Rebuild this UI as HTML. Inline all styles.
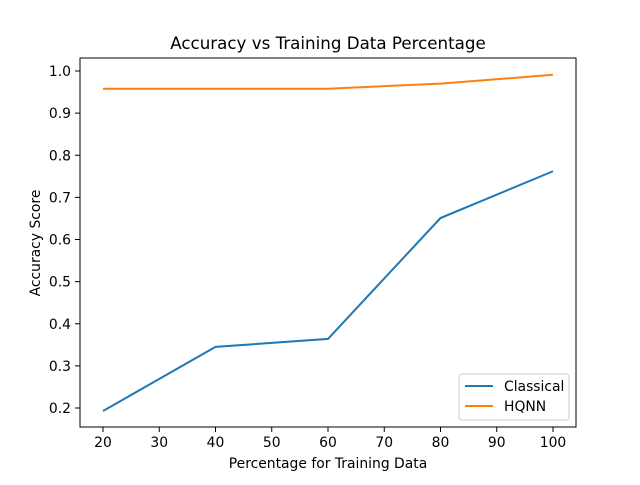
<!DOCTYPE html>
<html><head><meta charset="utf-8"><style>
body{margin:0;background:#fff;}
text{font-family:"DejaVu Sans","Liberation Sans",sans-serif;fill:#000;}
</style></head><body>
<svg id="chart" width="640" height="480">
<rect x="0" y="0" width="640" height="480" fill="#fff"/>
<text x="328" y="49" font-size="16.7" text-anchor="middle">Accuracy vs Training Data Percentage</text>
<g id="xticks"></g><g id="yticks"></g><g id="lines"></g>
<rect x="80" y="58" width="496" height="369" fill="none" stroke="#000" stroke-width="1"/>
<text x="328" y="468" font-size="13.9" text-anchor="middle">Percentage for Training Data</text>
<text transform="translate(40,243) rotate(-90)" font-size="13.9" text-anchor="middle">Accuracy Score</text>
<g>
<rect x="459" y="374" width="110" height="46" rx="3" fill="#fff" stroke="#ccc"/>
<line x1="465" y1="386" x2="493" y2="386" stroke="#1f77b4" stroke-width="2"/>
<text x="504" y="391" font-size="13.9">Classical</text>
<line x1="465" y1="406" x2="493" y2="406" stroke="#ff7f0e" stroke-width="2"/>
<text x="504" y="411" font-size="13.9">HQNN</text>
</g>
</svg>
<script>
const categories=[20,40,60,80,100];
const classical=[0.193,0.345,0.364,0.651,0.762];
const hqnn=[0.958,0.958,0.958,0.970,0.991];
const xTicks=[20,30,40,50,60,70,80,90,100];
const yTicks=[0.2,0.3,0.4,0.5,0.6,0.7,0.8,0.9,1.0];
const ns="http://www.w3.org/2000/svg";
function xs(v){return 103+(v-20)*5.625;}
function ys(v){return 408-(v-0.2)*421.25;}
const xg=document.getElementById('xticks'),yg=document.getElementById('yticks'),lg=document.getElementById('lines');
xTicks.forEach(t=>{
 const l=document.createElementNS(ns,'line');l.setAttribute('x1',xs(t));l.setAttribute('x2',xs(t));l.setAttribute('y1',427);l.setAttribute('y2',432);l.setAttribute('stroke','#000');
 
 
 xg.appendChild(l);
 const tx=document.createElementNS(ns,'text');tx.setAttribute('x',xs(t));tx.setAttribute('y',447);tx.setAttribute('font-size','13.9');tx.setAttribute('text-anchor','middle');tx.textContent=t;
 
 
 xg.appendChild(tx);
});
yTicks.forEach(t=>{
 const l=document.createElementNS(ns,'line');l.setAttribute('x1',75);l.setAttribute('x2',80);l.setAttribute('y1',ys(t));l.setAttribute('y2',ys(t));l.setAttribute('stroke','#000');
 
 
 yg.appendChild(l);
 const tx=document.createElementNS(ns,'text');tx.setAttribute('x',71);tx.setAttribute('y',ys(t)+5);tx.setAttribute('font-size','13.9');tx.setAttribute('text-anchor','end');tx.textContent=t.toFixed(1);
 
 
 yg.appendChild(tx);
});
function line(vals,color,name){
 const p=document.createElementNS(ns,'polyline');
 p.setAttribute('points',vals.map((v,i)=>xs(categories[i])+','+ys(v)).join(' '));
 p.setAttribute('fill','none');p.setAttribute('stroke',color);p.setAttribute('stroke-width','2');
 
 
 lg.appendChild(p);
}
line(classical,'#1f77b4','classical-line');
line(hqnn,'#ff7f0e','hqnn-line');
</script>
</body></html>
